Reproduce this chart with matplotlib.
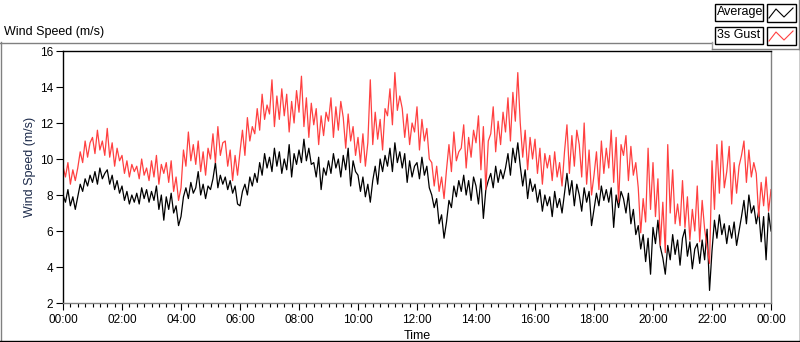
import numpy as np
import matplotlib
matplotlib.use("Agg")
import matplotlib.pyplot as plt
from matplotlib.lines import Line2D
from matplotlib.patches import Rectangle
from matplotlib.ticker import MultipleLocator

# samples every 5 minutes over one day (minutes since midnight)
minutes = np.arange(0, 1441, 5)

# 10-min average wind speed (m/s)
average = [
    8.0, 7.6, 8.3, 7.4, 7.9, 7.2,   7.9, 8.6, 8.2, 8.9, 8.5, 9.1,
    8.7, 9.3, 8.6, 9.5, 8.9, 9.2,   9.4, 8.6, 9.1, 8.3, 8.8, 8.1,
    8.5, 7.7, 8.2, 7.5, 8.0, 7.6,   8.1, 7.5, 8.4, 7.8, 8.3, 7.6,
    8.2, 7.7, 8.5, 7.2, 8.0, 6.6,   7.9, 7.2, 8.1, 7.0, 7.4, 6.3,
    6.8, 7.9, 8.4, 7.8, 8.7, 8.1,   8.4, 9.3, 8.0, 8.6, 7.8, 8.5,
    8.3, 8.9, 9.8, 8.4, 9.1, 8.6,   9.0, 8.3, 8.8, 8.1, 8.5, 7.5,
    7.4, 8.2, 8.6, 8.0, 9.0, 8.5,   9.2, 8.7, 9.8, 9.1, 10.3, 9.5,
    10.1, 9.3, 10.6, 9.6, 10.4, 9.2,  10.0, 9.4, 10.8, 9.0, 10.3, 9.7,
    10.5, 9.8, 11.1, 9.9, 10.6, 9.7,  9.8, 9.0, 10.1, 8.3, 9.5, 9.1,
    9.9, 9.2, 10.3, 9.5, 10.0, 9.0,   10.2, 9.4, 10.6, 8.5, 9.9, 9.3,
    9.1, 8.2, 9.0, 7.9, 8.6, 7.6,   8.8, 9.6, 8.6, 10.0, 9.3, 10.2,
    9.6, 10.6, 9.3, 10.9, 9.8, 10.4,  9.5, 10.3, 8.7, 9.9, 9.0, 9.6,
    9.8, 8.9, 10.1, 9.1, 9.6, 8.4,  8.0, 7.3, 7.8, 6.4, 6.9, 5.6,
    6.5, 7.7, 7.3, 8.5, 7.9, 8.8,   8.2, 9.1, 8.0, 8.8, 7.7, 9.0,
    8.5, 7.5, 8.9, 6.7, 8.3, 8.8,   9.2, 8.4, 9.6, 8.7, 9.4, 8.9,
    9.5, 10.3, 9.1, 10.6, 9.8, 10.9,  9.6, 8.5, 9.4, 7.8, 8.9, 8.2,
    8.6, 7.6, 8.3, 7.1, 8.0, 7.4,   7.9, 6.8, 8.2, 7.3, 7.8, 7.0,
    8.1, 9.2, 8.0, 8.8, 7.4, 8.6,   8.0, 7.1, 8.4, 7.6, 8.2, 6.3,
    7.2, 8.1, 7.4, 8.5, 7.7, 8.3,   7.6, 8.4, 6.2, 8.0, 7.3, 8.2,
    7.8, 7.0, 8.1, 6.4, 7.2, 5.8,   6.3, 5.0, 5.8, 4.3, 5.6, 3.6,
    6.2, 5.3, 6.6, 5.1, 4.5, 3.6,   5.2, 4.4, 5.8, 4.7, 5.5, 4.1,
    5.6, 6.1, 4.6, 5.4, 3.9, 5.0,   5.3, 4.2, 5.5, 4.4, 6.1, 2.7,
    4.9, 6.6, 5.6, 6.9, 5.8, 6.4,   5.3, 6.3, 5.6, 6.5, 5.2, 6.0,
    6.8, 7.7, 6.4, 8.0, 7.0, 7.4,   6.4, 7.1, 5.4, 6.8, 4.4, 7.0,
    6.0,
]

# 3 second gust (m/s)
gust = [
    9.6, 9.0, 9.8, 8.6, 9.4, 8.8,   9.5, 10.4, 9.8, 11.0, 10.1, 10.9,
    11.2, 10.3, 11.6, 10.5, 11.0, 10.2,  11.7, 10.1, 10.9, 9.6, 10.6, 9.9,
    10.2, 9.2, 9.9, 9.0, 9.7, 9.3,  9.6, 8.9, 10.0, 9.1, 9.5, 8.8,
    9.9, 9.0, 10.2, 8.6, 9.7, 9.2,  9.8, 8.7, 9.9, 8.2, 9.0, 7.7,
    8.4, 10.5, 9.6, 11.5, 9.9, 10.8,  9.7, 11.0, 9.3, 10.4, 9.1, 10.6,
    10.0, 11.4, 9.8, 11.8, 10.2, 10.9,  11.0, 9.6, 10.5, 8.8, 10.2, 9.1,
    10.4, 11.6, 10.2, 12.3, 11.0, 11.8,  11.4, 12.8, 11.6, 13.6, 12.2, 13.0,
    12.5, 14.4, 11.8, 13.5, 12.2, 13.9,  12.4, 13.6, 11.5, 13.2, 12.0, 13.8,
    12.6, 14.6, 11.8, 13.4, 11.2, 13.1,  11.9, 12.8, 10.8, 12.4, 11.3, 12.6,
    12.1, 13.4, 11.2, 12.9, 11.6, 13.2,  12.3, 10.6, 12.5, 11.0, 11.8, 10.2,
    11.2, 9.8, 11.4, 9.6, 10.9, 14.4,  10.8, 12.6, 11.1, 12.2, 10.5, 12.8,
    12.4, 13.9, 11.9, 14.8, 12.7, 13.5,  12.8, 11.2, 12.5, 10.8, 12.0, 11.5,
    12.9, 10.5, 12.2, 11.0, 11.7, 10.0,  9.8, 8.5, 9.6, 8.2, 9.0, 7.8,
    9.4, 10.8, 9.3, 11.5, 9.9, 10.4,  10.6, 11.9, 9.5, 11.2, 10.1, 11.6,
    10.9, 12.4, 9.4, 11.8, 8.3, 11.0,  11.4, 12.9, 10.4, 12.1, 10.8, 12.6,
    11.5, 13.4, 11.0, 13.7, 12.1, 14.8,  12.0, 10.1, 11.6, 9.4, 11.2, 10.0,
    11.1, 9.2, 10.6, 8.6, 10.3, 9.5,  10.2, 8.8, 10.4, 9.0, 9.8, 8.5,
    10.4, 11.9, 9.2, 11.3, 9.6, 11.6,  10.8, 9.0, 12.0, 8.6, 10.5, 8.0,
    9.1, 10.4, 8.3, 11.0, 9.2, 10.6,  9.5, 11.6, 8.7, 11.2, 7.6, 10.8,
    10.2, 11.3, 8.8, 10.7, 9.1, 9.8,  8.4, 5.9, 7.8, 6.5, 10.6, 7.2,
    9.8, 6.8, 8.9, 5.2, 7.6, 4.8,   10.8, 7.0, 9.4, 6.4, 7.5, 6.3,
    8.8, 6.2, 7.9, 5.5, 7.2, 6.0,   8.5, 5.4, 7.7, 6.1, 5.1, 4.2,
    9.9, 7.2, 10.8, 8.1, 11.0, 8.4,  9.3, 10.7, 7.5, 9.8, 8.1, 9.6,
    10.2, 11.0, 8.7, 10.5, 9.0, 9.8,  9.2, 6.8, 8.7, 7.4, 9.0, 7.1,
    8.3,
]

y_ticks = [2, 4, 6, 8, 10, 12, 14, 16]
x_tick_labels = ["00:00", "02:00", "04:00", "06:00", "08:00", "10:00", "12:00",
                 "14:00", "16:00", "18:00", "20:00", "22:00", "00:00"]

plt.rcParams['font.family'] = ['Liberation Sans', 'DejaVu Sans']
W, H = 800, 342
fig = plt.figure(figsize=(W / 100, H / 100), dpi=100)


def fx(x):
    return x / W


def fy(y):
    return 1 - y / H


ax = fig.add_axes([fx(63), fy(303), 708 / W, 252 / H])
ax.plot(minutes, average, color='black', lw=0.9)
ax.plot(minutes, gust, color='#ff4040', lw=0.9)

ax.set_xlim(0, 1440)
ax.set_ylim(2, 16)
ax.set_yticks(y_ticks)
ax.set_xticks(np.arange(0, 1441, 120))
ax.set_xticklabels(x_tick_labels)
ax.xaxis.set_minor_locator(MultipleLocator(15))
ax.tick_params(axis='both', labelsize=8.5, colors='black', width=0.8, pad=2)
ax.tick_params(axis='x', which='major', length=5, pad=3)
ax.tick_params(axis='x', which='minor', length=3, width=0.8)
ax.tick_params(axis='y', length=5)
for side in ['left', 'top']:
    ax.spines[side].set_color('black')
for side in ['right', 'bottom']:
    ax.spines[side].set_color('#808080')
for s in ax.spines.values():
    s.set_linewidth(1.0)

ax.set_xlabel("Time", fontsize=9, labelpad=3)
fig.text(fx(30), fy(167), "Wind Speed (m/s)", rotation=90, fontsize=9,
         color='#1c2a4a', ha='center', va='center')
fig.text(fx(4), fy(32), "Wind Speed (m/s)", fontsize=9, ha='left', va='center')

# frame lines around the graph
def fline(xs, ys, color, lw=1.0):
    fig.add_artist(Line2D([fx(v) for v in xs], [fy(v) for v in ys],
                          color=color, lw=lw, transform=fig.transFigure))

fline([0, 712], [42.5, 42.5], '#808080')
fline([0.5, 0.5], [42, 341], '#808080')
fline([0, 800], [341, 341], 'black')
fline([799.5, 799.5], [49, 341], 'black')
fline([712, 712], [42, 49], '#a0a0a0')
fline([712, 799], [49, 49], '#808080')
fline([798.5, 798.5], [0, 49], '#808080')

# legend boxes
for (label, color, top) in [("Average", 'black', 4), ("3s Gust", '#ff4040', 27)]:
    fig.add_artist(Rectangle((fx(715), fy(top + 17)), 48 / W, 17 / H, fill=False,
                             ec='black', lw=1.0, transform=fig.transFigure))
    fig.text(fx(717), fy(top + 8.5), label, fontsize=9, ha='left', va='center')
    fig.add_artist(Rectangle((fx(767), fy(top + 18)), 29 / W, 18 / H, fill=False,
                             ec='black', lw=1.0, transform=fig.transFigure))
    fline([769, 776, 784, 793], [top + 14, top + 5, top + 13, top + 4], color, lw=0.8)

fig.savefig("out.png", dpi=100)
